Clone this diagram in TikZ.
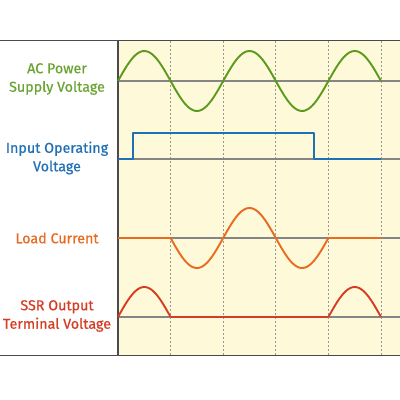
\documentclass[tikz,border=0pt]{standalone}
\usepackage{fontspec}
\setmainfont{Fira Sans}
\newfontfamily\lblfont[FakeBold=0.5]{Fira Sans}
\definecolor{cream}{HTML}{FEF9D8}
\definecolor{acgreen}{HTML}{5A9A1C}
\definecolor{inblue}{HTML}{1F70B6}
\definecolor{ldorange}{HTML}{E86B22}
\definecolor{ssrred}{HTML}{D63C24}
\definecolor{axisgray}{HTML}{858585}
\definecolor{framegray}{HTML}{4A4A4A}
\begin{document}
\begin{tikzpicture}[x=1pt,y=-1pt,
  lbl/.style={align=center,font=\lblfont\fontsize{14.3}{18.5}\selectfont},
  base/.style={draw=axisgray,line width=1.4pt},
  sig/.style={line width=1.9pt,line join=round},
  grid/.style={draw=axisgray!85,line width=1pt,dash pattern=on 1.8pt off 2.2pt},
  frame/.style={draw=framegray,line width=1.6pt}]
\useasboundingbox (0,0) rectangle (400,400);
\fill[white] (0,0) rectangle (400,400);
\fill[cream] (118,40.5) rectangle (400,355.5);
% dotted grid
\foreach \gx in {170.6,223.2,275.8,328.4,381} \draw[grid] (\gx,41) -- (\gx,355);
% baselines
\foreach \by in {81,159,238,317} \draw[base] (118,\by) -- (400,\by);
% frame
\draw[frame] (0,40.5) -- (400,40.5);
\draw[frame] (0,355.5) -- (400,355.5);
\draw[frame] (118,40.5) -- (118,355.5);
% AC voltage
\draw[sig,acgreen] plot[domain=0:5,samples=120,smooth] ({118+52.6*\x},{81-30*sin(180*\x)});
% input voltage
\draw[sig,inblue] (118,159) -- (133,159) -- (133,133) -- (314,133) -- (314,159) -- (381,159);
% load current
\draw[sig,ldorange] (118,238) -- (170.6,238);
\draw[sig,ldorange] plot[domain=0:3,samples=90,smooth] ({170.6+52.6*\x},{238+30*sin(180*\x)});
\draw[sig,ldorange] (328.4,238) -- (381,238);
% SSR output
\draw[sig,ssrred] plot[domain=0:1,samples=40,smooth] ({118+52.6*\x},{317-30*sin(180*\x)});
\draw[sig,ssrred] (170.6,317) -- (328.4,317);
\draw[sig,ssrred] plot[domain=0:1,samples=40,smooth] ({328.4+52.6*\x},{317-30*sin(180*\x)});
% labels
\node[lbl,text=acgreen!90!white] (acl) at (57,79) {AC Power\\Supply Voltage};
\node[lbl,text=inblue] (inl) at (57,158) {Input Operating\\Voltage};
\node[lbl,text=ldorange] (ldl) at (57,238) {Load Current};
\node[lbl,text=ssrred] (ssl) at (57,316) {SSR Output\\Terminal Voltage};
\end{tikzpicture}
\end{document}
